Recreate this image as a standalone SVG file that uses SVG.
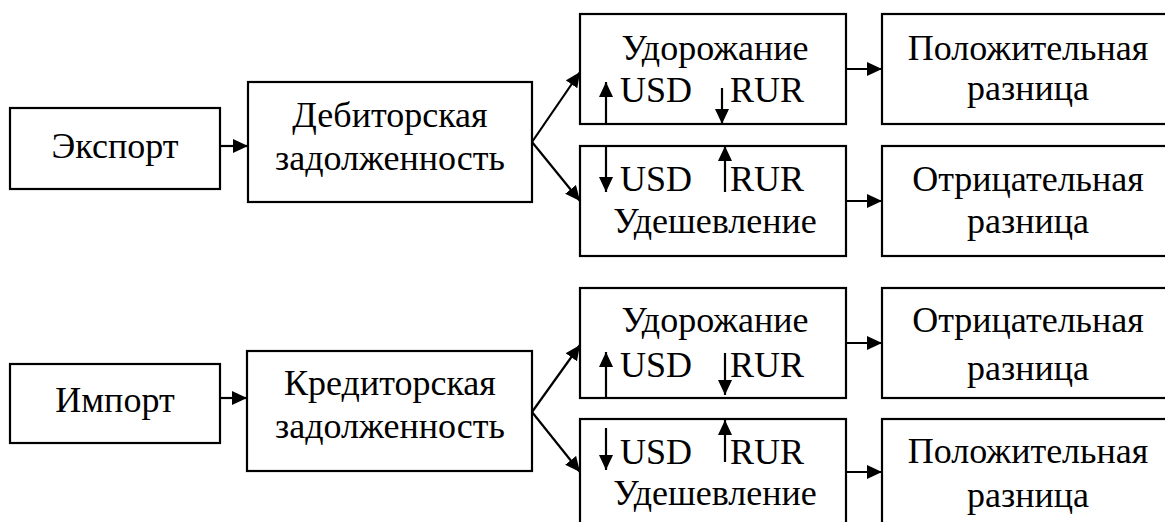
<svg xmlns="http://www.w3.org/2000/svg" width="1165" height="522" viewBox="0 0 1165 522">
<defs>
<marker id="ah" markerUnits="userSpaceOnUse" markerWidth="16" markerHeight="16" refX="15" refY="7" orient="auto">
<path d="M0,0 L15,7 L0,14 z" fill="#000"/>
</marker>
<style>
rect{fill:#fff;stroke:#000;stroke-width:2.2}
text{font-family:"Liberation Serif","Times New Roman",serif;font-size:36px;fill:#000}
.c{text-anchor:middle}
.ln{stroke:#000;stroke-width:2.2;fill:none;marker-end:url(#ah)}
</style>
</defs>
<rect x="0" y="0" width="1165" height="522" style="fill:#fff;stroke:none"/>
<g id="export"><rect x="10" y="108" width="210" height="81"/><text class="c" x="115" y="158">Экспорт</text></g>
<g id="debit"><rect x="248" y="82" width="284" height="120"/><text class="c" x="390" y="127">Дебиторская</text><text class="c" x="390" y="170">задолженность</text></g>
<g id="up1"><rect x="580" y="14" width="266" height="110"/><text class="c" x="715" y="60">Удорожание</text><text x="620" y="102">USD</text><text x="730" y="102">RUR</text></g>
<g id="down1"><rect x="580" y="146" width="266" height="110"/><text x="620" y="191">USD</text><text x="730" y="191">RUR</text><text class="c" x="715" y="233">Удешевление</text></g>
<g id="pos1"><rect x="882" y="14" width="300" height="110"/><text class="c" x="1028" y="60">Положительная</text><text class="c" x="1028" y="100">разница</text></g>
<g id="neg1"><rect x="882" y="146" width="300" height="110"/><text class="c" x="1028" y="191">Отрицательная</text><text class="c" x="1028" y="233">разница</text></g>
<g id="import"><rect x="10" y="364" width="210" height="79"/><text class="c" x="115" y="412">Импорт</text></g>
<g id="credit"><rect x="247" y="351" width="285" height="120"/><text class="c" x="390" y="395">Кредиторская</text><text class="c" x="390" y="438">задолженность</text></g>
<g id="up2"><rect x="580" y="288" width="266" height="110"/><text class="c" x="715" y="332">Удорожание</text><text x="620" y="377">USD</text><text x="730" y="377">RUR</text></g>
<g id="down2"><rect x="580" y="419" width="266" height="120"/><text x="620" y="464">USD</text><text x="730" y="464">RUR</text><text class="c" x="715" y="505">Удешевление</text></g>
<g id="neg2"><rect x="882" y="288" width="300" height="110"/><text class="c" x="1028" y="332">Отрицательная</text><text class="c" x="1028" y="380">разница</text></g>
<g id="pos2"><rect x="882" y="419" width="300" height="120"/><text class="c" x="1028" y="463">Положительная</text><text class="c" x="1028" y="507">разница</text></g>
<g id="connectors">
<path class="ln" d="M220,146 L248,146"/>
<path class="ln" d="M532,142 L580,72"/>
<path class="ln" d="M532,142 L580,201"/>
<path class="ln" d="M846,69 L882,69"/>
<path class="ln" d="M846,201 L882,201"/>
<path class="ln" d="M220,398 L247,398"/>
<path class="ln" d="M532,412 L580,345"/>
<path class="ln" d="M532,412 L580,472"/>
<path class="ln" d="M846,343 L882,343"/>
<path class="ln" d="M846,472 L882,472"/>
<path class="ln" d="M606,124 L606,82"/>
<path class="ln" d="M722,88 L722,124"/>
<path class="ln" d="M606,146 L606,192"/>
<path class="ln" d="M725,192 L725,146"/>
<path class="ln" d="M606,398 L606,352"/>
<path class="ln" d="M725,353 L725,395"/>
<path class="ln" d="M606,428 L606,470"/>
<path class="ln" d="M725,462 L725,420"/>
</g>
</svg>
